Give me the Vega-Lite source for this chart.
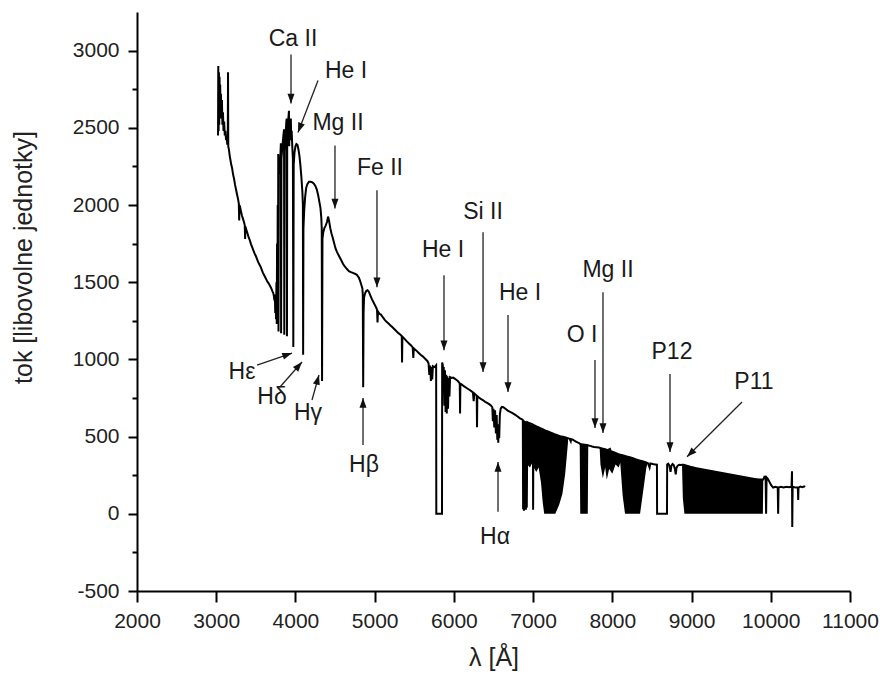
{
  "$schema": "https://vega.github.io/schema/vega-lite/v6.json",
  "width": 713,
  "height": 579,
  "autosize": {"type": "none"},
  "padding": {"left": 137, "top": 12, "right": 34, "bottom": 85},
  "background": "white",
  "config": {"view": {"stroke": null}, "font": "Liberation Sans"},
  "datasets": {
    "spec": [
      {"w":3023,"f":2450},{"w":3026,"f":2900},{"w":3030,"f":2480},{"w":3034,"f":2860},{"w":3038,"f":2520},{"w":3042,"f":2830},{"w":3046,"f":2560},{"w":3050,"f":2780},{"w":3055,"f":2600},{"w":3060,"f":2720},{"w":3066,"f":2560},{"w":3072,"f":2680},{"w":3078,"f":2520},{"w":3085,"f":2600},{"w":3092,"f":2480},{"w":3100,"f":2540},{"w":3108,"f":2450},{"w":3116,"f":2480},{"w":3124,"f":2420},{"w":3132,"f":2440},{"w":3140,"f":2390},{"w":3146,"f":2420},{"w":3149,"f":2860},{"w":3152,"f":2380},{"w":3160,"f":2360},{"w":3170,"f":2320},{"w":3180,"f":2290},{"w":3190,"f":2260},{"w":3200,"f":2240},{"w":3212,"f":2200},{"w":3225,"f":2170},{"w":3238,"f":2130},{"w":3250,"f":2100},{"w":3262,"f":2070},{"w":3275,"f":2040},{"w":3285,"f":2010},{"w":3290,"f":1900},{"w":3293,"f":2000},{"w":3300,"f":1990},{"w":3312,"f":1960},{"w":3325,"f":1930},{"w":3338,"f":1910},{"w":3350,"f":1890},{"w":3360,"f":1870},{"w":3365,"f":1780},{"w":3368,"f":1860},{"w":3380,"f":1840},{"w":3395,"f":1815},{"w":3410,"f":1790},{"w":3425,"f":1770},{"w":3440,"f":1745},{"w":3455,"f":1725},{"w":3470,"f":1705},{"w":3485,"f":1685},{"w":3500,"f":1670},{"w":3515,"f":1650},{"w":3530,"f":1630},{"w":3545,"f":1615},{"w":3560,"f":1600},{"w":3575,"f":1580},{"w":3590,"f":1560},{"w":3605,"f":1545},{"w":3620,"f":1530},{"w":3635,"f":1515},{"w":3650,"f":1500},{"w":3665,"f":1490},{"w":3680,"f":1475},{"w":3695,"f":1460},{"w":3710,"f":1440},{"w":3720,"f":1430},{"w":3728,"f":1410},{"w":3735,"f":1380},{"w":3740,"f":1420},{"w":3745,"f":1300},{"w":3750,"f":1400},{"w":3755,"f":1260},{"w":3760,"f":1500},{"w":3764,"f":1230},{"w":3768,"f":1750},{"w":3772,"f":1250},{"w":3776,"f":2000},{"w":3780,"f":1300},{"w":3783,"f":2330},{"w":3786,"f":1180},
      {"w":3790,"f":2200},{"w":3800,"f":2260},{"w":3810,"f":2320},{"w":3816,"f":2400},{"w":3819,"f":1170},{"w":3823,"f":2300},{"w":3835,"f":2380},{"w":3848,"f":2450},{"w":3856,"f":2490},{"w":3859,"f":1160},{"w":3863,"f":2350},{"w":3875,"f":2450},{"w":3885,"f":2540},{"w":3890,"f":2560},{"w":3893,"f":1150},{"w":3896,"f":2430},{"w":3908,"f":2540},{"w":3918,"f":2610},{"w":3921,"f":2380},{"w":3926,"f":2480},{"w":3935,"f":2550},{"w":3942,"f":2560},{"w":3946,"f":2420},{"w":3952,"f":2480},{"w":3960,"f":2380},{"w":3968,"f":2300},{"w":3973,"f":1080},{"w":3978,"f":2260},{"w":3988,"f":2340},{"w":4000,"f":2380},{"w":4012,"f":2395},{"w":4025,"f":2390},{"w":4038,"f":2360},{"w":4050,"f":2320},{"w":4062,"f":2260},{"w":4075,"f":2180},{"w":4088,"f":2080},{"w":4094,"f":2000},{"w":4097,"f":1030},{"w":4101,"f":1850},{"w":4110,"f":1960},{"w":4122,"f":2050},{"w":4135,"f":2110},{"w":4150,"f":2135},{"w":4170,"f":2150},{"w":4190,"f":2150},{"w":4210,"f":2148},{"w":4230,"f":2140},{"w":4250,"f":2125},{"w":4270,"f":2100},{"w":4288,"f":2060},{"w":4302,"f":2020},{"w":4316,"f":1980},{"w":4326,"f":1920},{"w":4332,"f":1850},{"w":4336,"f":860},{"w":4341,"f":1780},{"w":4350,"f":1820},{"w":4365,"f":1850},{"w":4380,"f":1865},{"w":4398,"f":1890},{"w":4412,"f":1925},{"w":4425,"f":1895},{"w":4440,"f":1850},{"w":4455,"f":1815},{"w":4470,"f":1790},{"w":4487,"f":1755},{"w":4505,"f":1720},{"w":4525,"f":1695},{"w":4550,"f":1670},{"w":4575,"f":1645},{"w":4600,"f":1620},{"w":4625,"f":1600},{"w":4650,"f":1585},{"w":4675,"f":1572},{"w":4700,"f":1565},{"w":4725,"f":1560},{"w":4750,"f":1555},{"w":4775,"f":1548},{"w":4800,"f":1530},{"w":4815,"f":1510},{"w":4830,"f":1485},{"w":4845,"f":1460},{"w":4850,"f":1420},{"w":4855,"f":820},{"w":4860,"f":1300},{"w":4866,"f":1400},{"w":4880,"f":1430},{"w":4895,"f":1445},{"w":4910,"f":1448},{"w":4925,"f":1440},{"w":4945,"f":1415},{"w":4965,"f":1390},{"w":4985,"f":1370},{"w":5005,"f":1350},{"w":5020,"f":1335},{"w":5030,"f":1320},{"w":5036,"f":1240},{"w":5042,"f":1310},{"w":5060,"f":1295},{"w":5080,"f":1290},{"w":5100,"f":1275},{"w":5125,"f":1258},{"w":5150,"f":1243},{"w":5175,"f":1232},{"w":5200,"f":1220},{"w":5225,"f":1208},{"w":5250,"f":1195},{"w":5275,"f":1182},{"w":5300,"f":1170},{"w":5325,"f":1160},{"w":5342,"f":1150},{"w":5346,"f":980},{"w":5350,"f":1148},{"w":5375,"f":1135},{"w":5400,"f":1120},{"w":5430,"f":1105},{"w":5460,"f":1090},{"w":5480,"f":1078},{"w":5488,"f":1010},{"w":5494,"f":1072},{"w":5520,"f":1060},{"w":5550,"f":1045},{"w":5580,"f":1030},{"w":5610,"f":1018},{"w":5640,"f":1003},{"w":5665,"f":990},{"w":5680,"f":975},{"w":5690,"f":900},{"w":5700,"f":960},{"w":5710,"f":860},{"w":5718,"f":950},{"w":5726,"f":870},{"w":5735,"f":955},{"w":5750,"f":950},{"w":5765,"f":955},{"w":5776,"f":962},{"w":5778,"f":0},{"w":5850,"f":0},{"w":5852,"f":980},{"w":5860,"f":965},{"w":5866,"f":880},{"w":5872,"f":950},{"w":5880,"f":700},{"w":5887,"f":930},{"w":5895,"f":660},{"w":5903,"f":900},{"w":5910,"f":650},{"w":5918,"f":890},{"w":5926,"f":680},{"w":5934,"f":880},{"w":5944,"f":760},{"w":5952,"f":885},{"w":5970,"f":880},{"w":5990,"f":882},{"w":6010,"f":875},{"w":6030,"f":868},{"w":6050,"f":860},{"w":6074,"f":845},{"w":6078,"f":650},{"w":6082,"f":843},{"w":6105,"f":835},{"w":6130,"f":825},{"w":6160,"f":815},{"w":6190,"f":805},{"w":6220,"f":795},{"w":6240,"f":785},{"w":6250,"f":730},{"w":6258,"f":780},{"w":6275,"f":772},{"w":6288,"f":765},{"w":6292,"f":560},{"w":6296,"f":762},{"w":6320,"f":752},{"w":6345,"f":742},{"w":6370,"f":735},{"w":6395,"f":725},{"w":6420,"f":718},{"w":6445,"f":710},{"w":6470,"f":700},{"w":6485,"f":690},{"w":6492,"f":600},{"w":6500,"f":680},{"w":6510,"f":560},{"w":6520,"f":670},{"w":6530,"f":520},{"w":6540,"f":640},{"w":6548,"f":480},{"w":6555,"f":560},{"w":6560,"f":460},{"w":6566,"f":580},{"w":6572,"f":490},{"w":6580,"f":640},{"w":6590,"f":680},{"w":6605,"f":692},{"w":6625,"f":690},{"w":6650,"f":680},{"w":6680,"f":668},{"w":6710,"f":660},{"w":6740,"f":652},{"w":6770,"f":642},{"w":6800,"f":632},{"w":6830,"f":620},{"w":6860,"f":612},{"w":6870,"f":608},
      {"w":6874,"f":30},{"w":6878,"f":605},{"w":6884,"f":20},{"w":6890,"f":600},{"w":6900,"f":30},{"w":6910,"f":598},{"w":6920,"f":40},{"w":6928,"f":594},{"w":6950,"f":588},{"w":6980,"f":582},{"w":6998,"f":578},{"w":7000,"f":26},{"w":7004,"f":576},{"w":7030,"f":570},{"w":7060,"f":562},{"w":7090,"f":555},{"w":7120,"f":548},{"w":7150,"f":540},{"w":7180,"f":535},{"w":7210,"f":528},{"w":7240,"f":522},{"w":7270,"f":515},{"w":7300,"f":510},{"w":7330,"f":505},{"w":7360,"f":500},{"w":7390,"f":497},{"w":7420,"f":493},{"w":7440,"f":490},{"w":7460,"f":486},{"w":7475,"f":470},{"w":7480,"f":484},{"w":7500,"f":480},{"w":7520,"f":474},{"w":7540,"f":468},{"w":7560,"f":462},{"w":7580,"f":458},{"w":7595,"f":452},{"w":7620,"f":450},{"w":7650,"f":448},{"w":7680,"f":446},{"w":7700,"f":442},{"w":7720,"f":440},{"w":7745,"f":436},{"w":7770,"f":433},{"w":7800,"f":431},{"w":7830,"f":429},{"w":7850,"f":426},{"w":7880,"f":422},{"w":7910,"f":418},{"w":7940,"f":412},{"w":7970,"f":420},{"w":7980,"f":405},{"w":8010,"f":400},{"w":8040,"f":394},{"w":8070,"f":388},{"w":8100,"f":383},{"w":8140,"f":378},{"w":8180,"f":372},{"w":8220,"f":366},{"w":8260,"f":360},{"w":8300,"f":352},{"w":8340,"f":346},{"w":8380,"f":340},{"w":8420,"f":334},{"w":8450,"f":328},{"w":8470,"f":300},{"w":8480,"f":326},{"w":8510,"f":322},{"w":8540,"f":320},{"w":8563,"f":318},{"w":8565,"f":0},{"w":8690,"f":0},{"w":8692,"f":320},{"w":8705,"f":325},{"w":8718,"f":315},{"w":8725,"f":300},{"w":8735,"f":272},{"w":8745,"f":310},{"w":8760,"f":322},{"w":8775,"f":315},{"w":8790,"f":290},{"w":8800,"f":256},{"w":8810,"f":298},{"w":8825,"f":312},{"w":8845,"f":318},{"w":8865,"f":316},{"w":8885,"f":318},{"w":8900,"f":318},{"w":8950,"f":310},{"w":9000,"f":302},{"w":9030,"f":299},{"w":9060,"f":290},{"w":9100,"f":288},{"w":9150,"f":278},{"w":9200,"f":270},{"w":9240,"f":266},{"w":9300,"f":256},{"w":9350,"f":248},{"w":9400,"f":242},{"w":9480,"f":234},{"w":9550,"f":230},{"w":9620,"f":228},{"w":9700,"f":225},{"w":9800,"f":221},{"w":9880,"f":222},{"w":9905,"f":222},{"w":9920,"f":240},{"w":9935,"f":238},{"w":9941,"f":0},{"w":9947,"f":236},{"w":9965,"f":225},{"w":9985,"f":205},{"w":10005,"f":185},{"w":10030,"f":170},{"w":10060,"f":175},{"w":10088,"f":170},{"w":10093,"f":0},{"w":10098,"f":170},{"w":10130,"f":175},{"w":10160,"f":170},{"w":10200,"f":175},{"w":10230,"f":172},{"w":10262,"f":176},{"w":10268,"f":275},{"w":10271,"f":-85},{"w":10276,"f":175},{"w":10300,"f":172},{"w":10325,"f":170},{"w":10342,"f":170},{"w":10346,"f":90},{"w":10350,"f":170},{"w":10375,"f":176},{"w":10400,"f":172},{"w":10420,"f":178},{"w":10434,"f":174}
    ],
    "bands": [
      {"b":"b1","w":6870,"lo":580,"hi":610},{"b":"b1","w":6873,"lo":30,"hi":609},{"b":"b1","w":6920,"lo":25,"hi":594},{"b":"b1","w":6928,"lo":320,"hi":592},{"b":"b1","w":6960,"lo":300,"hi":582},{"b":"b1","w":6990,"lo":330,"hi":576},{"b":"b1","w":7000,"lo":30,"hi":575},{"b":"b1","w":7008,"lo":300,"hi":573},{"b":"b1","w":7040,"lo":270,"hi":566},{"b":"b1","w":7070,"lo":300,"hi":558},{"b":"b1","w":7100,"lo":200,"hi":550},{"b":"b1","w":7120,"lo":80,"hi":546},{"b":"b1","w":7140,"lo":0,"hi":541},{"b":"b1","w":7280,"lo":0,"hi":512},{"b":"b1","w":7330,"lo":60,"hi":505},{"b":"b1","w":7370,"lo":130,"hi":499},{"b":"b1","w":7405,"lo":260,"hi":494},{"b":"b1","w":7440,"lo":460,"hi":490},
      {"b":"b2","w":7588,"lo":455,"hi":456},{"b":"b2","w":7595,"lo":0,"hi":452},{"b":"b2","w":7690,"lo":0,"hi":444},{"b":"b2","w":7696,"lo":440,"hi":443},
      {"b":"b3","w":7840,"lo":425,"hi":428},{"b":"b3","w":7850,"lo":320,"hi":427},{"b":"b3","w":7880,"lo":230,"hi":423},{"b":"b3","w":7910,"lo":300,"hi":419},{"b":"b3","w":7930,"lo":220,"hi":415},{"b":"b3","w":7960,"lo":290,"hi":414},{"b":"b3","w":8000,"lo":260,"hi":401},{"b":"b3","w":8040,"lo":320,"hi":395},{"b":"b3","w":8080,"lo":300,"hi":388},{"b":"b3","w":8100,"lo":330,"hi":384},{"b":"b3","w":8130,"lo":120,"hi":379},{"b":"b3","w":8160,"lo":0,"hi":374},{"b":"b3","w":8350,"lo":0,"hi":346},{"b":"b3","w":8390,"lo":150,"hi":340},{"b":"b3","w":8430,"lo":300,"hi":332},{"b":"b3","w":8445,"lo":326,"hi":330},
      {"b":"b4","w":8880,"lo":300,"hi":318},{"b":"b4","w":8890,"lo":100,"hi":318},{"b":"b4","w":8910,"lo":0,"hi":316},{"b":"b4","w":9900,"lo":0,"hi":222},{"b":"b4","w":9905,"lo":200,"hi":222}
    ],
    "arrows": [
      {"tx":3944,"ty":2974,"hx":3944,"hy":2657},
      {"tx":4285,"ty":2806,"hx":4032,"hy":2470},
      {"tx":4499,"ty":2386,"hx":4499,"hy":1978},
      {"tx":5029,"ty":2095,"hx":5029,"hy":1468},
      {"tx":3515,"ty":963,"hx":3957,"hy":1041},
      {"tx":3805,"ty":821,"hx":4083,"hy":983},
      {"tx":4209,"ty":737,"hx":4297,"hy":899},
      {"tx":4853,"ty":446,"hx":4853,"hy":750},
      {"tx":5875,"ty":1545,"hx":5875,"hy":1060},
      {"tx":6368,"ty":1823,"hx":6368,"hy":918},
      {"tx":6683,"ty":1287,"hx":6683,"hy":789},
      {"tx":7882,"ty":1435,"hx":7882,"hy":524},
      {"tx":7781,"ty":996,"hx":7781,"hy":556},
      {"tx":8728,"ty":905,"hx":8728,"hy":401},
      {"tx":9637,"ty":724,"hx":8943,"hy":369},
      {"tx":6557,"ty":13,"hx":6557,"hy":336}
    ],
    "labels": [
      {"t":"Ca II","x":3969,"y":3077},
      {"t":"He I","x":4638,"y":2870},
      {"t":"Mg II","x":4537,"y":2534},
      {"t":"Fe II","x":5067,"y":2237},
      {"t":"Hε","x":3325,"y":918},
      {"t":"Hδ","x":3704,"y":756},
      {"t":"Hγ","x":4158,"y":653},
      {"t":"Hβ","x":4865,"y":317},
      {"t":"He I","x":5863,"y":1707},
      {"t":"Si II","x":6368,"y":1952},
      {"t":"He I","x":6835,"y":1429},
      {"t":"Mg II","x":7945,"y":1577},
      {"t":"O I","x":7617,"y":1157},
      {"t":"P12","x":8753,"y":1047},
      {"t":"P11","x":9788,"y":853},
      {"t":"Hα","x":6519,"y":-149}
    ]
  },
  "layer": [
    {
      "data": {"name": "bands"},
      "mark": {"type": "area", "color": "black", "opacity": 1},
      "encoding": {
        "x": {
          "field": "w", "type": "quantitative",
          "scale": {"domain": [2000, 11000], "nice": false, "zero": false},
          "axis": {
            "title": "λ [Å]",
            "values": [2000,2500,3000,3500,4000,4500,5000,5500,6000,6500,7000,7500,8000,8500,9000,9500,10000,10500,11000],
            "labelExpr": "datum.value % 1000 === 0 ? '' + datum.value : ''",
            "labelOverlap": false,
            "labelFontSize": 21,
            "labelColor": "#222",
            "labelPadding": 8,
            "labelFlush": false,
            "tickSize": {"condition": {"test": "datum.value % 1000 === 0", "value": 11}, "value": 6},
            "tickWidth": 2,
            "tickColor": "black",
            "domainColor": "black",
            "domainWidth": 2,
            "grid": false,
            "titleFontSize": 25,
            "titleFontWeight": "normal",
            "titleColor": "#222",
            "titleBaseline": "alphabetic",
            "titleY": 74
          }
        },
        "y": {
          "field": "hi", "type": "quantitative",
          "scale": {"domain": [-500, 3250], "nice": false, "zero": false},
          "axis": {
            "title": "tok [libovolne jednotky]",
            "values": [-500,-250,0,250,500,750,1000,1250,1500,1750,2000,2250,2500,2750,3000],
            "labelExpr": "datum.value % 500 === 0 ? '' + datum.value : ''",
            "labelOverlap": false,
            "labelFontSize": 21,
            "labelColor": "#222",
            "labelPadding": 9,
            "labelFlush": false,
            "tickSize": {"condition": {"test": "datum.value % 500 === 0", "value": 9}, "value": 5},
            "tickWidth": 2,
            "tickColor": "black",
            "domainColor": "black",
            "domainWidth": 2,
            "grid": false,
            "titleFontSize": 25,
            "titleFontWeight": "normal",
            "titleColor": "#222",
            "titleAngle": -90,
            "titleAlign": "center",
            "titleBaseline": "alphabetic",
            "titleX": -106,
            "titleY": 245
          }
        },
        "y2": {"field": "lo"},
        "detail": {"field": "b"}
      }
    },
    {
      "data": {"name": "spec"},
      "mark": {"type": "line", "color": "black", "strokeWidth": 2},
      "encoding": {
        "x": {"field": "w", "type": "quantitative"},
        "y": {"field": "f", "type": "quantitative"},
        "order": {"value": null}
      }
    },
    {
      "data": {"name": "arrows"},
      "mark": {"type": "rule", "color": "#222", "strokeWidth": 1.3},
      "encoding": {
        "x": {"field": "tx", "type": "quantitative"},
        "y": {"field": "ty", "type": "quantitative"},
        "x2": {"field": "hx"},
        "y2": {"field": "hy"}
      }
    },
    {
      "data": {"name": "arrows"},
      "mark": {
        "type": "point", "filled": true, "opacity": 1, "color": "#111", "size": 380,
        "shape": "M0,0L-0.36,-1L0.36,-1Z",
        "angle": {"expr": "atan2(scale('x', datum.tx) - scale('x', datum.hx), scale('y', datum.hy) - scale('y', datum.ty)) * 180 / PI"}
      },
      "encoding": {
        "x": {"field": "hx", "type": "quantitative"},
        "y": {"field": "hy", "type": "quantitative"}
      }
    },
    {
      "data": {"name": "labels"},
      "mark": {"type": "text", "fontSize": 23, "color": "#1a1a1a", "align": "center", "baseline": "middle", "font": "Liberation Sans"},
      "encoding": {
        "x": {"field": "x", "type": "quantitative"},
        "y": {"field": "y", "type": "quantitative"},
        "text": {"field": "t"}
      }
    }
  ]
}
